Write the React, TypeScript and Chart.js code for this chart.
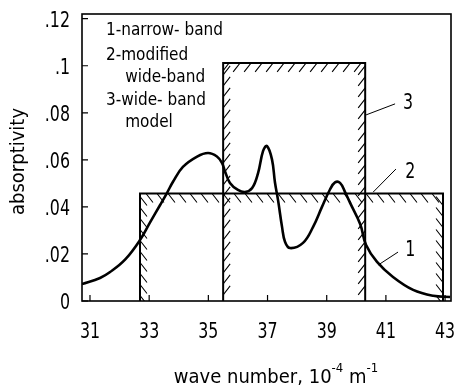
import { useEffect, useRef } from "react";
import { Chart, registerables } from "chart.js";
Chart.register(...registerables);

// narrow-band absorptivity curve (1)
const curveX = [30.73, 31.34, 31.68, 32.2, 32.69, 33.03, 33.37, 33.6, 33.81, 34.14, 34.62, 34.99, 35.29, 35.46, 35.56, 35.73, 36.0, 36.24, 36.48, 36.68, 36.85, 36.98, 37.15, 37.25, 37.36, 37.49, 37.59, 37.76, 38.2, 38.54, 38.84, 39.11, 39.28, 39.45, 39.62, 39.79, 40.13, 40.33, 40.7, 41.24, 41.92, 42.6, 43.17];
const curveY = [0.0072, 0.0098, 0.0123, 0.0178, 0.0259, 0.0334, 0.0408, 0.0459, 0.0508, 0.057, 0.0614, 0.0629, 0.0614, 0.0587, 0.0552, 0.0502, 0.0472, 0.0463, 0.048, 0.0544, 0.0638, 0.0659, 0.0602, 0.0505, 0.0425, 0.0315, 0.0252, 0.0225, 0.0247, 0.0315, 0.04, 0.0474, 0.0504, 0.0502, 0.0463, 0.0417, 0.0327, 0.0238, 0.0166, 0.0102, 0.0047, 0.0022, 0.0017];

// wide-band model (3)
const wideBandX = [35.5, 35.5, 40.3, 40.3];
const wideBandY = [0, 0.1012, 0.1012, 0];

// modified wide-band (2)
const modBandX = [32.69, 32.69, 42.93, 42.93];
const modBandY = [0, 0.0457, 0.0457, 0];

const xTickValues = [31, 33, 35, 37, 39, 41, 43];
const xTickLabels = ["31", "33", "35", "37", "39", "41", "43"];
const yTickValues = [0, 0.02, 0.04, 0.06, 0.08, 0.1, 0.12];
const yTickLabels = ["0", ".02", ".04", ".06", ".08", ".1", ".12"];

const legendLines = ["1-narrow- band", "2-modified", "wide-band", "3-wide- band", "model"];
const legendIndent = [0, 0, 1, 0, 1];

// curve labels: [label, labelX, labelY, lineFromX, lineFromY, lineToX, lineToY]
const curveLabels: [string, number, number, number, number, number, number][] = [
  ["3", 41.58, 0.0842, 40.33, 0.0791, 41.31, 0.0838],
  ["2", 41.65, 0.0548, 40.57, 0.0463, 41.34, 0.0561],
  ["1", 41.65, 0.0217, 40.74, 0.0153, 41.41, 0.0208],
];

const TEXT_FONT = '"DejaVu Sans Condensed", "DejaVu Sans", sans-serif';

export default function App() {
  const ref = useRef<HTMLCanvasElement | null>(null);
  useEffect(() => {
    document.body.style.margin = "0";
    const canvas = ref.current!;
    const narrowText = (ctx: any, t: string, x: number, y: number, align: string, sx: number) => {
      ctx.save();
      ctx.translate(x, y);
      ctx.scale(sx, 1);
      ctx.textAlign = align;
      ctx.fillText(t, 0, 0);
      ctx.restore();
    };
    const hatchPlugin = {
      id: "hatchAndText",
      afterDatasetsDraw(chart: any) {
        const { ctx, chartArea, scales } = chart;
        const xs = scales.x, ys = scales.y;
        ctx.save();
        // frame
        ctx.strokeStyle = "#000";
        ctx.lineWidth = 1.6;
        ctx.strokeRect(chartArea.left, chartArea.top, chartArea.right - chartArea.left, chartArea.bottom - chartArea.top);
        // inward ticks
        ctx.lineWidth = 1.2;
        ctx.beginPath();
        yTickValues.forEach((v) => {
          const py = ys.getPixelForValue(v);
          ctx.moveTo(chartArea.left, py);
          ctx.lineTo(chartArea.left + 6, py);
        });
        xTickValues.forEach((v) => {
          const px = xs.getPixelForValue(v);
          ctx.moveTo(px, chartArea.bottom);
          ctx.lineTo(px, chartArea.bottom - 6);
        });
        ctx.stroke();

        // tick labels
        ctx.fillStyle = "#000";
        ctx.font = "22px " + TEXT_FONT;
        ctx.textBaseline = "alphabetic";
        yTickValues.forEach((v, i) => {
          narrowText(ctx, yTickLabels[i], chartArea.left - 12, ys.getPixelForValue(v) + 8, "right", 0.8);
        });
        xTickValues.forEach((v, i) => {
          narrowText(ctx, xTickLabels[i], xs.getPixelForValue(v), chartArea.bottom + 37, "center", 0.8);
        });

        // hatching
        const hatch = (xArr: number[], yArr: number[], dir: number) => {
          const X0 = xs.getPixelForValue(xArr[0]);
          const X1 = xs.getPixelForValue(xArr[2]);
          const YT = ys.getPixelForValue(yArr[1]);
          const YB = ys.getPixelForValue(yArr[0]);
          ctx.save();
          ctx.beginPath();
          ctx.rect(X0, YT, X1 - X0, YB - YT);
          ctx.clip();
          ctx.lineWidth = 1.1;
          ctx.beginPath();
          const step = 11, dx = 7, dy = 9;
          for (let x = X0 + 6; x < X1 - 2; x += step) {
            ctx.moveTo(x, YT);
            ctx.lineTo(x + dir * dx, YT + dy);
          }
          for (let y = YT + 12; y < YB + 4; y += step) {
            if (dir > 0) {
              ctx.moveTo(X0, y - dy);
              ctx.lineTo(X0 + dx, y);
              ctx.moveTo(X1 - dx, y - dy);
              ctx.lineTo(X1, y);
            } else {
              ctx.moveTo(X0, y);
              ctx.lineTo(X0 + dx, y - dy);
              ctx.moveTo(X1 - dx, y);
              ctx.lineTo(X1, y - dy);
            }
          }
          ctx.stroke();
          ctx.restore();
        };
        hatch(wideBandX, wideBandY, -1);
        hatch(modBandX, modBandY, 1);

        // legend text
        ctx.font = "17px " + TEXT_FONT;
        ctx.textBaseline = "middle";
        ctx.textAlign = "left";
        const lx = xs.getPixelForValue(31.54);
        const indentW = ctx.measureText("2-").width + 4;
        let ly = ys.getPixelForValue(0.1152) + 1;
        const lineGaps = [0, 25, 22, 23, 22];
        legendLines.forEach((t, i) => {
          ly += lineGaps[i];
          ctx.fillText(t, lx + legendIndent[i] * indentW, ly);
        });

        // curve labels with leader lines
        ctx.font = "22px " + TEXT_FONT;
        ctx.lineWidth = 1;
        curveLabels.forEach(([t, tx, ty, fx, fy, qx, qy]) => {
          ctx.beginPath();
          ctx.moveTo(xs.getPixelForValue(fx), ys.getPixelForValue(fy));
          ctx.lineTo(xs.getPixelForValue(qx), ys.getPixelForValue(qy));
          ctx.stroke();
          narrowText(ctx, t, xs.getPixelForValue(tx), ys.getPixelForValue(ty), "left", 0.8);
        });

        // axis titles
        ctx.font = "20px " + TEXT_FONT;
        ctx.save();
        ctx.translate(19, (chartArea.top + chartArea.bottom) / 2 + 4);
        ctx.rotate(-Math.PI / 2);
        ctx.textAlign = "center";
        ctx.fillText("absorptivity", 0, 0);
        ctx.restore();

        const main = "wave number, 10";
        const sup1 = "-4";
        const mid = " m";
        const sup2 = "-1";
        ctx.font = "20px " + TEXT_FONT;
        const wMain = ctx.measureText(main).width;
        const wMid = ctx.measureText(mid).width;
        ctx.font = "13px " + TEXT_FONT;
        const wS1 = ctx.measureText(sup1).width;
        const wS2 = ctx.measureText(sup2).width;
        const total = wMain + wS1 + wMid + wS2;
        let tx = 276 - total / 2;
        const ty = 378;
        ctx.textAlign = "left";
        ctx.font = "20px " + TEXT_FONT;
        ctx.fillText(main, tx, ty);
        tx += wMain;
        ctx.font = "13px " + TEXT_FONT;
        ctx.fillText(sup1, tx, ty - 9);
        tx += wS1;
        ctx.font = "20px " + TEXT_FONT;
        ctx.fillText(mid, tx, ty);
        tx += wMid;
        ctx.font = "13px " + TEXT_FONT;
        ctx.fillText(sup2, tx, ty - 9);
        ctx.restore();
      },
    };

    const chart = new Chart(canvas, {
      type: "line",
      data: {
        datasets: [
          {
            data: modBandX.map((x, i) => ({ x, y: modBandY[i] })),
            borderColor: "#000",
            borderWidth: 2,
            pointRadius: 0,
            tension: 0,
            fill: false,
          },
          {
            data: wideBandX.map((x, i) => ({ x, y: wideBandY[i] })),
            borderColor: "#000",
            borderWidth: 2,
            pointRadius: 0,
            tension: 0,
            fill: false,
          },
          {
            data: curveX.map((x, i) => ({ x, y: curveY[i] })),
            borderColor: "#000",
            borderWidth: 2.6,
            pointRadius: 0,
            tension: 0.4,
            fill: false,
          },
        ],
      },
      options: {
        responsive: false,
        animation: false,
        devicePixelRatio: 1,
        layout: { padding: { left: 0, top: 14, right: 6, bottom: 0 } },
        plugins: { legend: { display: false }, tooltip: { enabled: false } },
        scales: {
          x: {
            type: "linear",
            min: 30.73,
            max: 43.2,
            afterBuildTicks: (s: any) => {
              s.ticks = xTickValues.map((v) => ({ value: v }));
            },
            afterFit: (s: any) => {
              s.height = 87;
            },
            grid: { display: false, drawTicks: false },
            border: { display: false },
            ticks: { display: false },
          },
          y: {
            type: "linear",
            min: 0,
            max: 0.122,
            afterBuildTicks: (s: any) => {
              s.ticks = yTickValues.map((v) => ({ value: v }));
            },
            afterFit: (s: any) => {
              s.width = 82;
            },
            grid: { display: false, drawTicks: false },
            border: { display: false },
            ticks: { display: false },
          },
        },
      },
      plugins: [hatchPlugin],
    } as any);
    return () => chart.destroy();
  }, []);
  return <canvas ref={ref} width={457} height={388} style={{ display: "block" }} />;
}
